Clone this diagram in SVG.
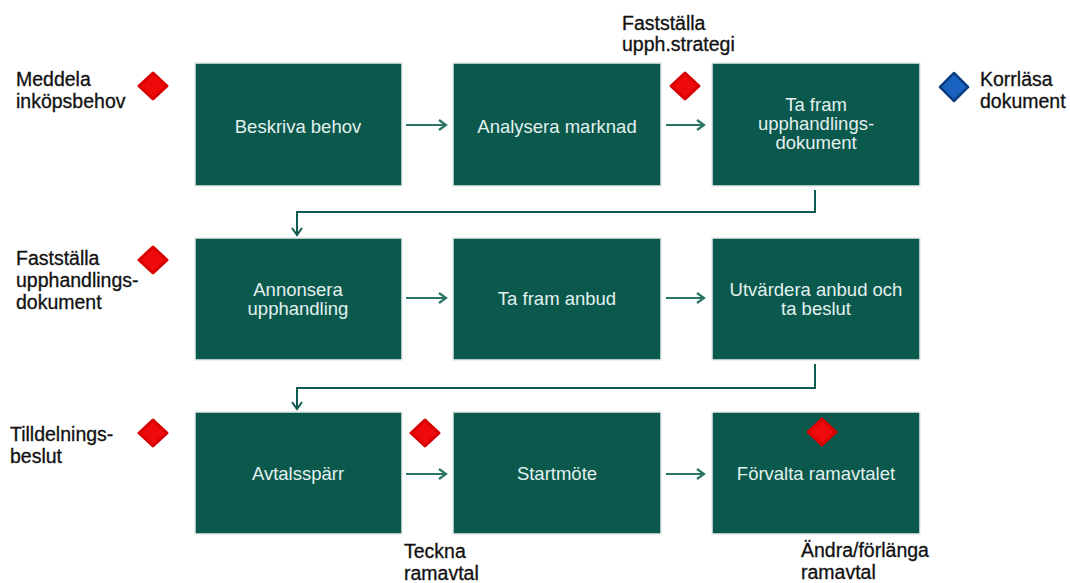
<svg xmlns="http://www.w3.org/2000/svg" width="1070" height="583" viewBox="0 0 1070 583">
<style>
.box{fill:#0b584d;stroke:#e6ecea;stroke-width:1.5}
.bt{font-family:"Liberation Sans",Arial,sans-serif;font-size:18.5px;fill:#e2f1ed;text-anchor:middle}
.lb{font-family:"Liberation Sans",Arial,sans-serif;font-size:19.5px;fill:#111;stroke:#111;stroke-width:0.3}
.arr{fill:none;stroke:#2b7566;stroke-width:2.2}
.con{fill:none;stroke:#0f5d52;stroke-width:2}
.red{fill:#ee0a0a;stroke:#d80000;stroke-width:3;stroke-linejoin:round}
.blue{fill:#1a63c0;stroke:#0b3f82;stroke-width:2.5;stroke-linejoin:round}
</style>
<defs>
<marker id="ah" viewBox="0 0 12 12" refX="10" refY="6" markerWidth="12" markerHeight="12" markerUnits="userSpaceOnUse" orient="auto">
<path d="M3,1 L10,6 L3,11" fill="none" stroke="#2b7566" stroke-width="2.2"/>
</marker>
<marker id="ah2" viewBox="0 0 12 12" refX="10" refY="6" markerWidth="12" markerHeight="12" markerUnits="userSpaceOnUse" orient="auto">
<path d="M3,1 L10,6 L3,11" fill="none" stroke="#0f5d52" stroke-width="2"/>
</marker>
</defs>
<rect width="1070" height="583" fill="#fff"/>

<g id="connectors">
<line class="arr" x1="406" y1="125" x2="446" y2="125" marker-end="url(#ah)"/>
<line class="arr" x1="666" y1="125" x2="704" y2="125" marker-end="url(#ah)"/>
<line class="arr" x1="406" y1="298" x2="446" y2="298" marker-end="url(#ah)"/>
<line class="arr" x1="666" y1="298" x2="704" y2="298" marker-end="url(#ah)"/>
<line class="arr" x1="406" y1="474" x2="446" y2="474" marker-end="url(#ah)"/>
<line class="arr" x1="666" y1="474" x2="704" y2="474" marker-end="url(#ah)"/>
<path class="con" d="M815,190 V212 H297 V235" marker-end="url(#ah2)"/>
<path class="con" d="M815,364 V388 H297 V409" marker-end="url(#ah2)"/>
</g>

<g id="n1"><rect class="box" x="195" y="63" width="207" height="123"/><text class="bt" x="298" y="133">Beskriva behov</text></g>
<g id="n2"><rect class="box" x="453" y="63" width="208" height="123"/><text class="bt" x="557" y="133">Analysera marknad</text></g>
<g id="n3"><rect class="box" x="712" y="63" width="208" height="123"/><text class="bt" x="816" y="111">Ta fram</text><text class="bt" x="816" y="130">upphandlings-</text><text class="bt" x="816" y="149">dokument</text></g>

<g id="n4"><rect class="box" x="195" y="238" width="207" height="122"/><text class="bt" x="298" y="296">Annonsera</text><text class="bt" x="298" y="315">upphandling</text></g>
<g id="n5"><rect class="box" x="453" y="238" width="208" height="122"/><text class="bt" x="557" y="305">Ta fram anbud</text></g>
<g id="n6"><rect class="box" x="712" y="238" width="208" height="122"/><text class="bt" x="816" y="296">Utvärdera anbud och</text><text class="bt" x="816" y="315">ta beslut</text></g>

<g id="n7"><rect class="box" x="195" y="412" width="207" height="122"/><text class="bt" x="298" y="480">Avtalsspärr</text></g>
<g id="n8"><rect class="box" x="453" y="412" width="208" height="122"/><text class="bt" x="557" y="480">Startmöte</text></g>
<g id="n9"><rect class="box" x="712" y="412" width="208" height="122"/><text class="bt" x="816" y="480">Förvalta ramavtalet</text></g>

<g id="m1"><polygon class="red" points="153,73 167,86 153,99 139,86"/><text class="lb" x="16" y="86">Meddela</text><text class="lb" x="16" y="108">inköpsbehov</text></g>
<g id="m2"><polygon class="red" points="685,73 699,86 685,99 671,86"/><text class="lb" x="622" y="30">Fastställa</text><text class="lb" x="622" y="51">upph.strategi</text></g>
<g id="m3"><polygon class="blue" points="954,73 968,87 954,101 940,87"/><text class="lb" x="980" y="86">Korrläsa</text><text class="lb" x="980" y="108">dokument</text></g>
<g id="m4"><polygon class="red" points="153,247 167,260 153,273 139,260"/><text class="lb" x="16" y="265">Fastställa</text><text class="lb" x="16" y="287">upphandlings-</text><text class="lb" x="16" y="309">dokument</text></g>
<g id="m5"><polygon class="red" points="153,420 167,433 153,446 139,433"/><text class="lb" x="10" y="441">Tilldelnings-</text><text class="lb" x="10" y="463">beslut</text></g>
<g id="m6"><polygon class="red" points="425,420 439,433 425,446 411,433"/><text class="lb" x="404" y="558">Teckna</text><text class="lb" x="404" y="580">ramavtal</text></g>
<g id="m7"><polygon class="red" points="822,419 836,432 822,445 808,432"/><text class="lb" x="801" y="557">Ändra/förlänga</text><text class="lb" x="801" y="579">ramavtal</text></g>
</svg>
